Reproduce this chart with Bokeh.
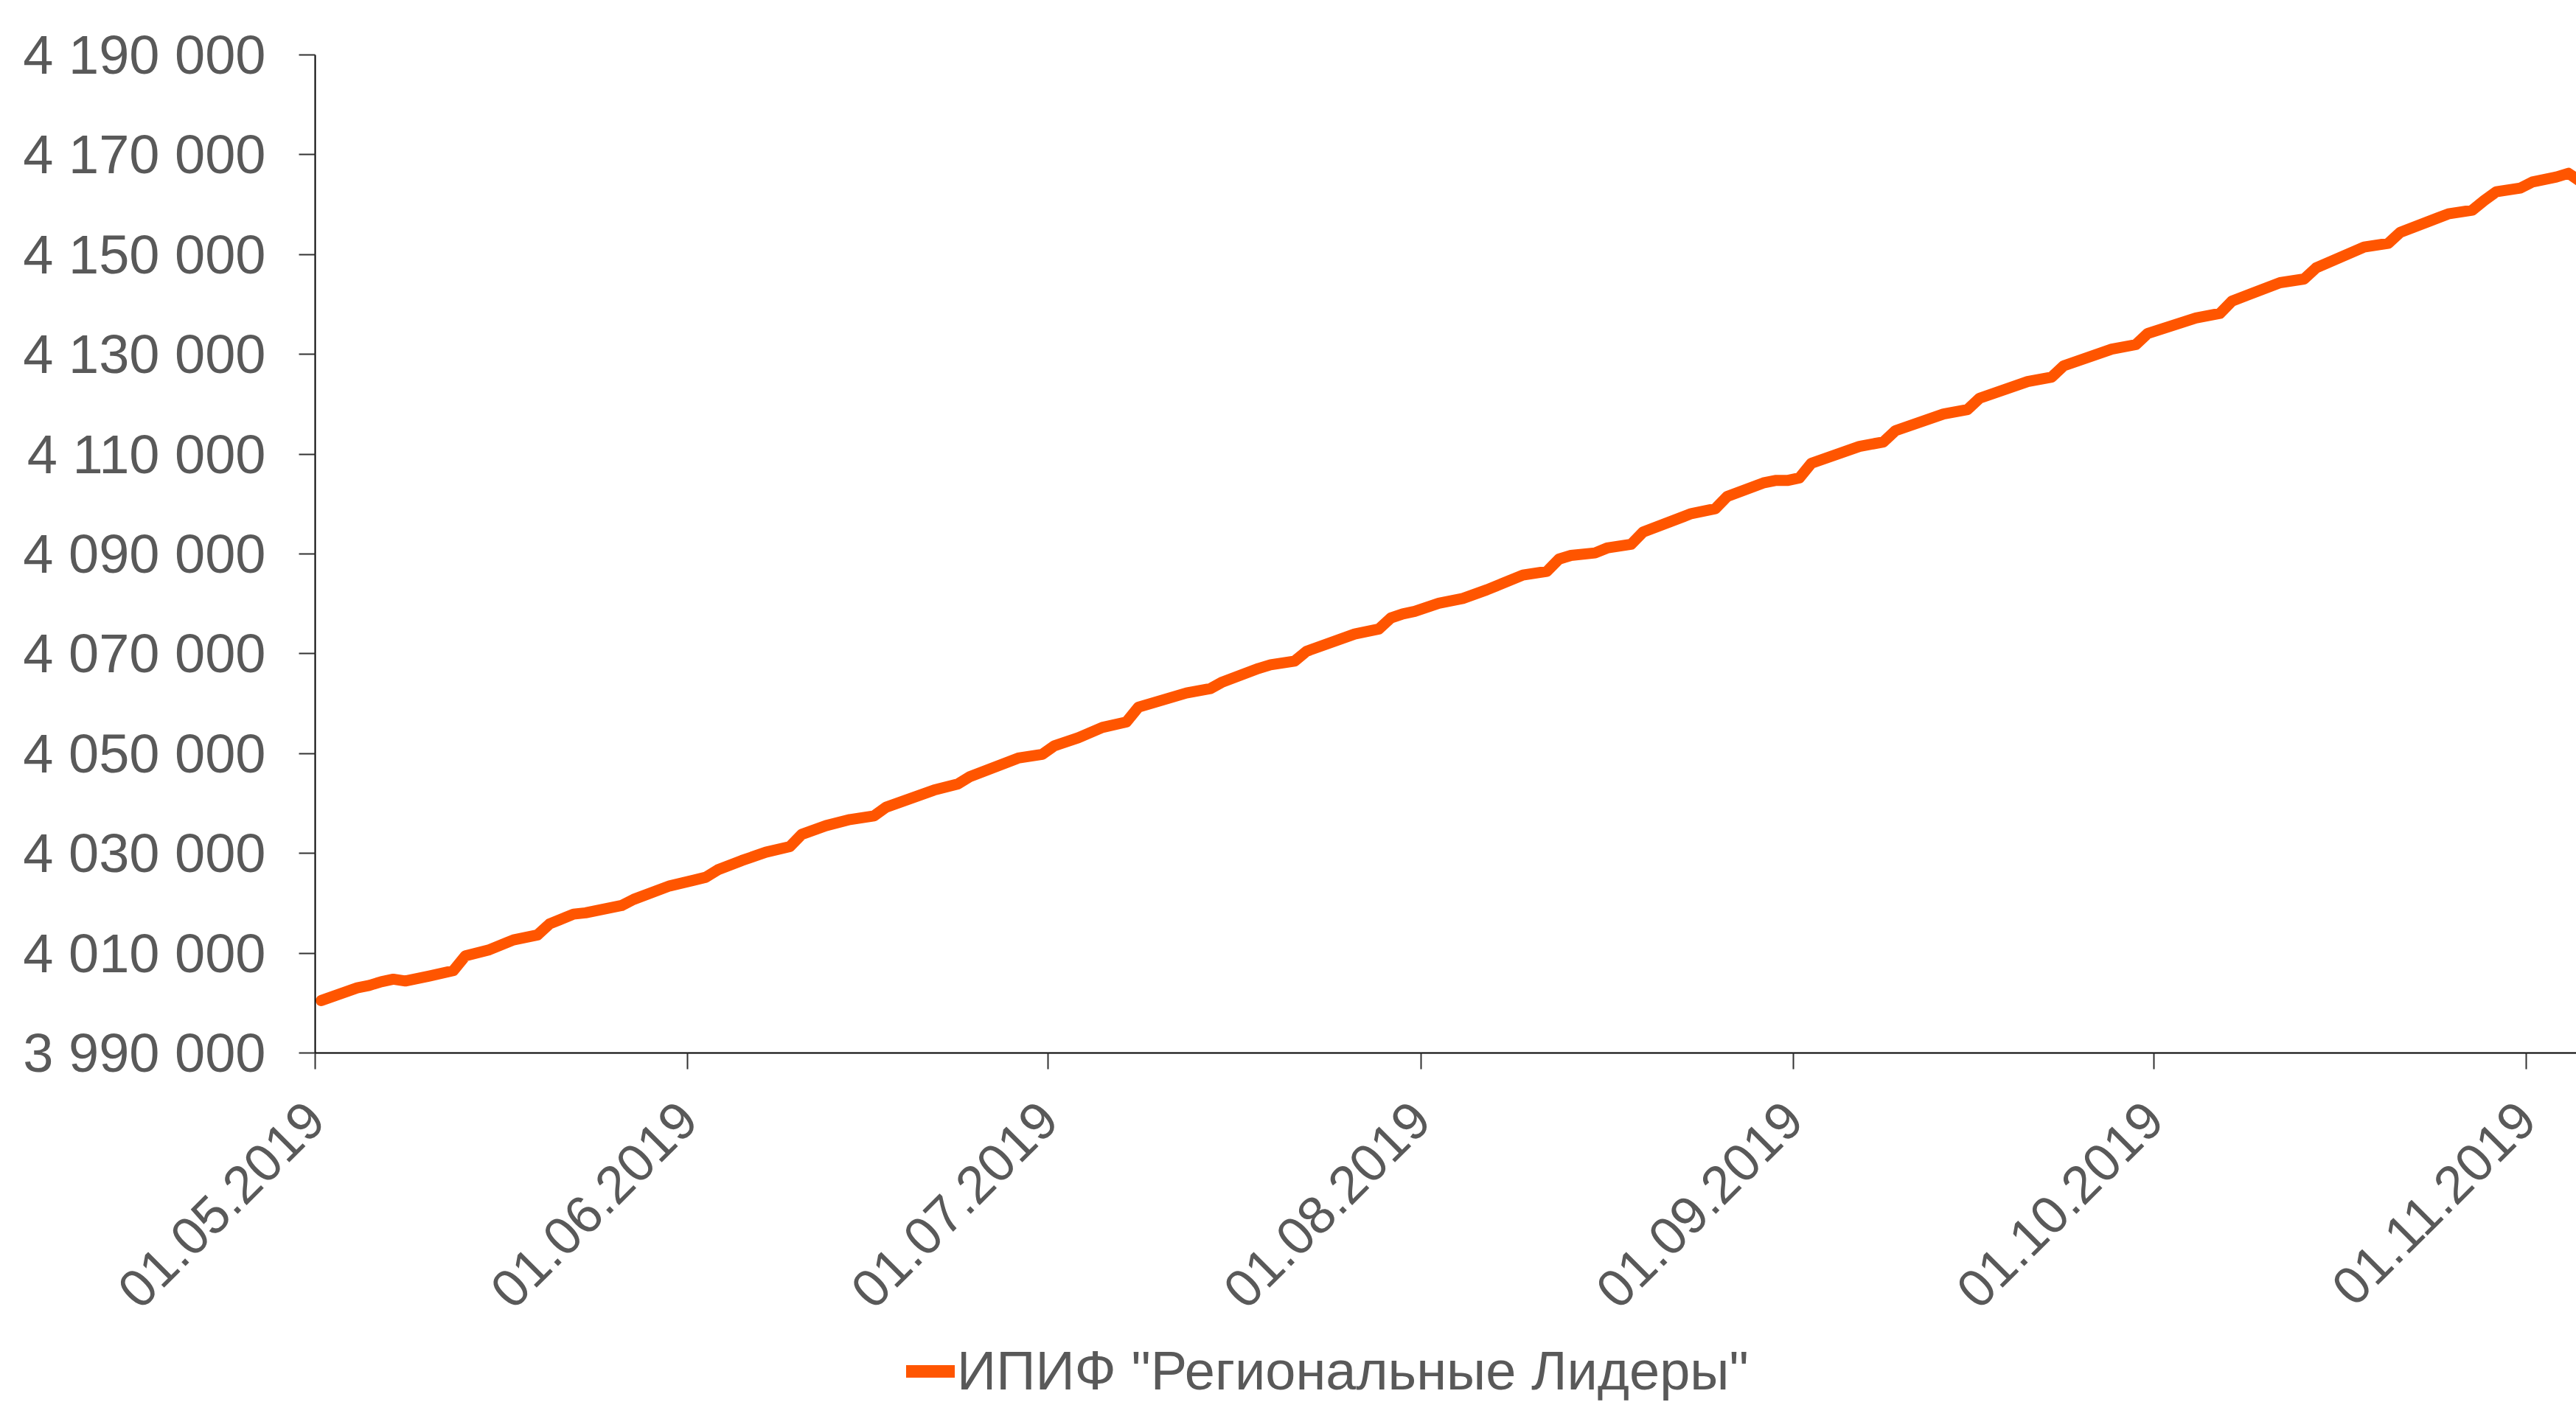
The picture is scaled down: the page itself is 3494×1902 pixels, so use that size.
import math
import pandas as pd
from bokeh.plotting import figure
from bokeh.layouts import column
from bokeh.models import (ColumnDataSource, FixedTicker, DatetimeTickFormatter,
                          Range1d, Legend, LegendItem)
from bokeh.embed import file_html
from bokeh.resources import INLINE

# ---- data ----
series_name = 'ИПИФ "Региональные Лидеры"'

dates = [
    "2019-05-01", "2019-05-04", "2019-05-05", "2019-05-06", "2019-05-07", "2019-05-08",
    "2019-05-10", "2019-05-12", "2019-05-13", "2019-05-15", "2019-05-17", "2019-05-19",
    "2019-05-20", "2019-05-22", "2019-05-23", "2019-05-26", "2019-05-27", "2019-05-30",
    "2019-06-01", "2019-06-02", "2019-06-03", "2019-06-05", "2019-06-07", "2019-06-09",
    "2019-06-10", "2019-06-12", "2019-06-14", "2019-06-16", "2019-06-17", "2019-06-21",
    "2019-06-23", "2019-06-24", "2019-06-28", "2019-06-30", "2019-07-01", "2019-07-03",
    "2019-07-05", "2019-07-07", "2019-07-08", "2019-07-12", "2019-07-14", "2019-07-15",
    "2019-07-18", "2019-07-19", "2019-07-21", "2019-07-22", "2019-07-26", "2019-07-28",
    "2019-07-29", "2019-07-30", "2019-07-31", "2019-08-02", "2019-08-04", "2019-08-06",
    "2019-08-09", "2019-08-11", "2019-08-12", "2019-08-13", "2019-08-15", "2019-08-16",
    "2019-08-18", "2019-08-19", "2019-08-23", "2019-08-25", "2019-08-26", "2019-08-29",
    "2019-08-30", "2019-08-31", "2019-09-01", "2019-09-02", "2019-09-06", "2019-09-08",
    "2019-09-09", "2019-09-13", "2019-09-15", "2019-09-16", "2019-09-20", "2019-09-22",
    "2019-09-23", "2019-09-27", "2019-09-29", "2019-09-30", "2019-10-04", "2019-10-06",
    "2019-10-07", "2019-10-11", "2019-10-13", "2019-10-14", "2019-10-18", "2019-10-20",
    "2019-10-21", "2019-10-25", "2019-10-27", "2019-10-28", "2019-10-29", "2019-10-31",
    "2019-11-01", "2019-11-03", "2019-11-04", "2019-11-05",
]

values = [
    4000500, 4003050, 4003540, 4004280, 4004780, 4004430,
    4005420, 4006500, 4009450, 4010690, 4012660, 4013650,
    4015860, 4017830, 4018080, 4019550, 4020780, 4023480,
    4024620, 4025210, 4026690, 4028560, 4030230, 4031370,
    4033820, 4035550, 4036780, 4037520, 4039240, 4042680,
    4043930, 4045400, 4049090, 4049830, 4051550, 4053170,
    4055240, 4056330, 4059290, 4062140, 4063020, 4064350,
    4067060, 4067790, 4068530, 4070510, 4073950, 4074940,
    4077160, 4077980, 4078490, 4080110, 4081090, 4082810,
    4085770, 4086510, 4088970, 4089710, 4090200, 4091190,
    4091930, 4094380, 4098070, 4099060, 4101530, 4104230,
    4104720, 4104720, 4105220, 4108170, 4111550, 4112450,
    4114700, 4118050, 4118950, 4121200, 4124550, 4125450,
    4127700, 4131050, 4131950, 4134200, 4137300, 4138200,
    4140670, 4144360, 4145100, 4147320, 4151500, 4152230,
    4154450, 4158140, 4158880, 4160840, 4162570, 4163310,
    4164540, 4165530, 4166270, 4164640,
]

y_ticks = [3990000, 4010000, 4030000, 4050000, 4070000, 4090000,
           4110000, 4130000, 4150000, 4170000, 4190000]
y_tick_labels = ["3 990 000", "4 010 000", "4 030 000", "4 050 000", "4 070 000",
                 "4 090 000", "4 110 000", "4 130 000", "4 150 000", "4 170 000",
                 "4 190 000"]
x_tick_dates = ["2019-05-01", "2019-06-01", "2019-07-01", "2019-08-01",
                "2019-09-01", "2019-10-01", "2019-11-01"]

# ---- layout ----
W = 3494
LEFT, TOP = 427, 74
FRAME_H = 1354
BOTTOM = 391
H1 = TOP + FRAME_H + BOTTOM      # main chart
H2 = 83                          # legend strip
PX_PER_DAY = 16.30
frame_w = W - LEFT

x_start = pd.Timestamp("2019-05-01")
x_end = x_start + pd.Timedelta(days=frame_w / PX_PER_DAY)

# points sit in the middle of their day slot
xs = pd.to_datetime(dates) + pd.Timedelta(hours=12)
src = ColumnDataSource(dict(x=xs, y=values))

LINE_COLOR = "#FF5500"
LINE_W = 15
FONT = "Liberation Sans"
GREY = "#595959"

p = figure(width=W, height=H1, x_axis_type="datetime",
           output_backend="svg", toolbar_location=None,
           x_range=Range1d(x_start.to_pydatetime(), x_end.to_pydatetime()),
           y_range=Range1d(y_ticks[0], y_ticks[-1]),
           min_border_left=LEFT, min_border_right=0, min_border_top=TOP,
           min_border_bottom=BOTTOM)
p.outline_line_color = None
p.grid.visible = False
p.background_fill_color = "white"
p.border_fill_color = "white"

r = p.line("x", "y", source=src, line_color=LINE_COLOR, line_width=LINE_W,
           line_join="round", line_cap="round")

for ax in (p.xaxis[0], p.yaxis[0]):
    ax.axis_line_color = "black"
    ax.axis_line_width = 2
    ax.major_tick_line_color = "#333333"
    ax.major_tick_line_width = 2
    ax.major_tick_out = 22
    ax.major_tick_in = 0
    ax.minor_tick_line_color = None
    ax.major_label_text_font = FONT
    ax.major_label_text_color = GREY

yax = p.yaxis[0]
yax.ticker = FixedTicker(ticks=y_ticks)
yax.major_label_overrides = {float(v): s for v, s in zip(y_ticks, y_tick_labels)}
yax.major_label_text_font_size = "74px"
yax.major_label_standoff = 45

xax = p.xaxis[0]
xax.ticker = FixedTicker(ticks=[pd.Timestamp(d).value / 1e6 for d in x_tick_dates])
fmt = "%d.%m.%Y"
xax.formatter = DatetimeTickFormatter(microseconds=fmt, milliseconds=fmt, seconds=fmt,
                                      minsec=fmt, minutes=fmt, hourmin=fmt, hours=fmt,
                                      days=fmt, months=fmt, years=fmt)
xax.major_label_orientation = math.pi / 4
xax.major_label_text_font_size = "72px"
xax.major_label_standoff = 56

# ---- legend strip below the chart (same series, outside its view range) ----
p2 = figure(width=W, height=H2, output_backend="svg", toolbar_location=None,
            x_axis_location=None, y_axis_location=None,
            x_range=Range1d(0, 1), y_range=Range1d(0, 1),
            min_border_left=LEFT, min_border_right=0,
            min_border_top=0, min_border_bottom=0)
p2.outline_line_color = None
p2.grid.visible = False
p2.background_fill_color = "white"
p2.border_fill_color = "white"
key = p2.line("x", "y", source=src, line_color=LINE_COLOR, line_width=LINE_W + 2,
              line_join="round", line_cap="round")

legend = Legend(items=[LegendItem(label=series_name, renderers=[key])],
                location=(802, 0), orientation="horizontal",
                border_line_color=None, background_fill_alpha=0,
                padding=0, margin=0, spacing=0,
                glyph_width=66, glyph_height=20, label_standoff=3,
                label_text_font=FONT, label_text_font_size="74px",
                label_text_color=GREY)
p2.add_layout(legend)

layout = column(p, p2, spacing=0)
open("out.html", "w").write(file_html(layout, INLINE))
